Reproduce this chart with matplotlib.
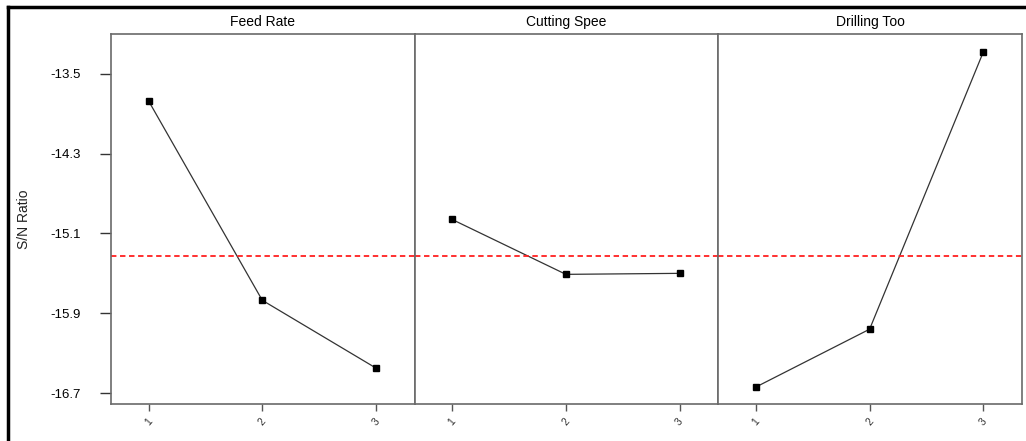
import matplotlib
matplotlib.use("Agg")
import matplotlib.pyplot as plt
from matplotlib.lines import Line2D

plt.rcParams['font.family'] = ['Liberation Sans Narrow', 'Liberation Sans', 'DejaVu Sans']

# main effects of S/N ratio, one panel per factor
factors = ["Feed Rate", "Cutting Spee", "Drilling Too"]
levels = [1, 2, 3]
feed_rate = [-13.77, -15.77, -16.45]
cutting_speed = [-14.96, -15.51, -15.50]
drilling_tool = [-16.64, -16.06, -13.28]
sn_values = [feed_rate, cutting_speed, drilling_tool]
mean_sn = -15.33
y_ticks = [-13.5, -14.3, -15.1, -15.9, -16.7]

W, H = 1026, 441
fig = plt.figure(figsize=(W / 100, H / 100), dpi=100)

# outer frame (only left and top visible)
fig.add_artist(Line2D([8 / W, 8 / W], [0, 1 - 7 / H], color="black", lw=2.5))
fig.add_artist(Line2D([8 / W, 1], [1 - 7 / H, 1 - 7 / H], color="black", lw=2.5))

left, right, top, bottom = 111, 1022, 34, 404
pw = (right - left) / 3
for i, name in enumerate(factors):
    ax = fig.add_axes([(left + i * pw) / W, 1 - bottom / H, pw / W, (bottom - top) / H])
    ax.plot(levels, sn_values[i], color="#333333", lw=0.9, marker="s", ms=4.5,
            mfc="black", mec="black")
    ax.axhline(mean_sn, color="#ff2020", lw=1.3, ls=(0, (3, 2)))
    ax.set_xlim(0.67, 3.34)
    ax.set_ylim(-16.81, -13.1)
    ax.set_xticks(levels)
    ax.set_xticklabels([str(l) for l in levels], rotation=50, fontsize=7.5, color="#333333")
    ax.tick_params(axis="x", length=5, width=1, color="#555555", pad=4)
    for s in ax.spines.values():
        s.set_color("#6a6a6a")
        s.set_linewidth(1.2)
    if i == 0:
        ax.set_yticks(y_ticks)
        ax.set_yticklabels([str(v) for v in y_ticks], fontsize=9.5)
        ax.tick_params(axis="y", length=8, width=1, color="#333333", pad=14)
        ax.set_ylabel("S/N Ratio", fontsize=10, color="#222222", labelpad=14)
    else:
        ax.set_yticks([])
    ax.text(0.5, 1 + 12 / (bottom - top), name, transform=ax.transAxes,
            ha="center", va="center", fontsize=10)

fig.savefig("out.png", dpi=100)
